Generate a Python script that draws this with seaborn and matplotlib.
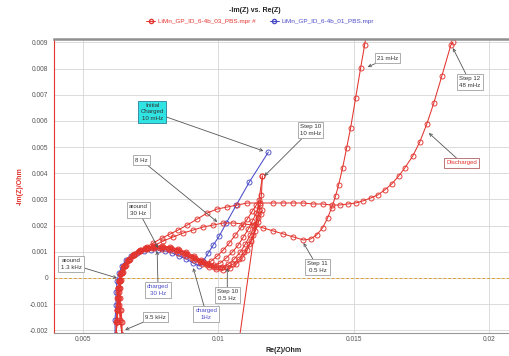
import matplotlib
matplotlib.use("Agg")
import matplotlib.pyplot as plt
from matplotlib.lines import Line2D
from matplotlib.ticker import MultipleLocator, FuncFormatter
import numpy as np
import pandas as pd
import seaborn as sns

# ---------------- data: Nyquist spectra (Re(Z), -Im(Z)) in Ohm ----------------
# series 01 : initial charged state
blue_re = [0.006185, 0.006185, 0.006222, 0.006222, 0.006259, 0.006333, 0.006444, 0.006593,
           0.006778, 0.007000, 0.007259, 0.007519, 0.007778, 0.008037, 0.008296, 0.008556,
           0.008815, 0.009074, 0.009296, 0.009444, 0.009630, 0.009815, 0.010037, 0.010296,
           0.010667, 0.011148, 0.011852]
blue_im = [-0.002177, -0.001604, -0.001031, -0.000535, -0.000115, 0.000191, 0.000458, 0.000688,
           0.000840, 0.000955, 0.001031, 0.001070, 0.001070, 0.001031, 0.000955, 0.000840,
           0.000726, 0.000573, 0.000458, 0.000649, 0.000955, 0.001261, 0.001604, 0.002101,
           0.002788, 0.003667, 0.004813]

# series 03 : successive steps
s1_re = [0.006444, 0.006407, 0.006370, 0.006333, 0.006333, 0.006333, 0.006407, 0.006519,
         0.006667, 0.006852, 0.007074, 0.007333, 0.007593, 0.007889, 0.008185, 0.008481,
         0.008778, 0.009074, 0.009333, 0.009519, 0.009741, 0.009963, 0.010185, 0.010407,
         0.010630, 0.010852, 0.011074, 0.011259, 0.011407, 0.011519]
s1_im = [-0.002177, -0.001680, -0.001222, -0.000764, -0.000382, -0.000115, 0.000191, 0.000458,
         0.000688, 0.000879, 0.001031, 0.001146, 0.001184, 0.001184, 0.001146, 0.001070,
         0.000955, 0.000802, 0.000649, 0.000573, 0.000649, 0.000840, 0.001070, 0.001337,
         0.001642, 0.001948, 0.002254, 0.002559, 0.002788, 0.002979]

s2_re = [0.006222, 0.006259, 0.006296, 0.006296, 0.006296, 0.006370, 0.006444, 0.006556,
         0.006704, 0.006889, 0.007111, 0.007370, 0.007630, 0.007926, 0.008222, 0.008519,
         0.008815, 0.009111, 0.009370, 0.009630, 0.009852, 0.010074, 0.010296, 0.010519,
         0.010741, 0.010926, 0.011111, 0.011259, 0.011407, 0.011556]
s2_im = [-0.002177, -0.001680, -0.001222, -0.000764, -0.000382, -0.000076, 0.000229, 0.000497,
         0.000726, 0.000917, 0.001070, 0.001184, 0.001222, 0.001222, 0.001184, 0.001108,
         0.000993, 0.000840, 0.000688, 0.000535, 0.000497, 0.000573, 0.000764, 0.000993,
         0.001261, 0.001566, 0.001872, 0.002177, 0.002483, 0.002788]

s3_re = [0.006444, 0.006444, 0.006407, 0.006370, 0.006370, 0.006407, 0.006481, 0.006593,
         0.006741, 0.006926, 0.007148, 0.007407, 0.007667, 0.007963, 0.008259, 0.008556,
         0.008852, 0.009148, 0.009444, 0.009704, 0.009926, 0.010148, 0.010370, 0.010593,
         0.010815, 0.011000, 0.011185, 0.011333, 0.011481, 0.011630]
s3_im = [-0.002177, -0.001680, -0.001222, -0.000764, -0.000382, -0.000076, 0.000229, 0.000497,
         0.000726, 0.000917, 0.001070, 0.001146, 0.001184, 0.001184, 0.001146, 0.001070,
         0.000917, 0.000764, 0.000611, 0.000497, 0.000420, 0.000420, 0.000535, 0.000726,
         0.000993, 0.001299, 0.001642, 0.001986, 0.002292, 0.002597]

s4_re = [0.006222, 0.006259, 0.006259, 0.006296, 0.006333, 0.006370, 0.006444, 0.006556,
         0.006704, 0.006889, 0.007111, 0.007370, 0.007630, 0.007926, 0.008222, 0.008519,
         0.008815, 0.009111, 0.009407, 0.009667, 0.009926, 0.010185, 0.010444, 0.010667,
         0.010889, 0.011074, 0.011222, 0.011370, 0.011481, 0.011593]
s4_im = [-0.002177, -0.001680, -0.001222, -0.000764, -0.000382, -0.000115, 0.000191, 0.000458,
         0.000688, 0.000879, 0.001031, 0.001108, 0.001146, 0.001108, 0.001070, 0.000955,
         0.000840, 0.000688, 0.000535, 0.000420, 0.000344, 0.000306, 0.000382, 0.000535,
         0.000764, 0.001070, 0.001413, 0.001795, 0.002139, 0.002445]

step10_re = [0.006222, 0.006222, 0.006259, 0.006259, 0.006296, 0.006333, 0.006370, 0.006481,
             0.006630, 0.006815, 0.007037, 0.007296, 0.007556, 0.007852, 0.008148, 0.008444,
             0.008741, 0.009037, 0.009333, 0.009593, 0.009852, 0.010074, 0.010333, 0.010556,
             0.010778, 0.010963, 0.011148, 0.011296, 0.011407, 0.011519, 0.011593, 0.011630]
step10_im = [-0.002177, -0.001680, -0.001222, -0.000764, -0.000382, -0.000115, 0.000153, 0.000420,
             0.000649, 0.000840, 0.000993, 0.001108, 0.001146, 0.001146, 0.001108, 0.001031,
             0.000917, 0.000764, 0.000611, 0.000497, 0.000420, 0.000382, 0.000420, 0.000535,
             0.000726, 0.000993, 0.001299, 0.001642, 0.002063, 0.002597, 0.003170, 0.003896]

# step 11 is recorded straight after step 10, so its trace starts from the last step-10 point
step11_re = [0.011630, 0.010667, 0.006444, 0.006370, 0.006333, 0.006333, 0.006370, 0.006444,
             0.006556, 0.006704, 0.006889, 0.007111, 0.007333, 0.007593, 0.007963, 0.008333,
             0.008704, 0.009074, 0.009444, 0.009815, 0.010185, 0.010556, 0.010926, 0.011296,
             0.011667, 0.012037, 0.012407, 0.012778, 0.013148, 0.013407, 0.013630, 0.013852,
             0.014037, 0.014185, 0.014333, 0.014444, 0.014593, 0.014741, 0.014889, 0.015074,
             0.015259, 0.015407, 0.015519]
step11_im = [0.003896, -0.003132, -0.002177, -0.001604, -0.001031, -0.000535, -0.000115, 0.000191,
             0.000458, 0.000688, 0.000879, 0.001031, 0.001146, 0.001222, 0.001413, 0.001566,
             0.001719, 0.001833, 0.001948, 0.002024, 0.002101, 0.002101, 0.002063, 0.002024,
             0.001910, 0.001795, 0.001681, 0.001566, 0.001452, 0.001490, 0.001642, 0.001910,
             0.002292, 0.002674, 0.003132, 0.003552, 0.004202, 0.004966, 0.005730, 0.006876,
             0.008021, 0.008900, 0.009664]

step12_re = [0.006222, 0.006259, 0.006296, 0.006296, 0.006333, 0.006407, 0.006519, 0.006667,
             0.006852, 0.007074, 0.007296, 0.007593, 0.007926, 0.008222, 0.008519, 0.008852,
             0.009222, 0.009593, 0.009963, 0.010333, 0.010704, 0.011074, 0.011556, 0.012037,
             0.012407, 0.012778, 0.013148, 0.013481, 0.013852, 0.014185, 0.014481, 0.014778,
             0.015074, 0.015333, 0.015630, 0.015889, 0.016148, 0.016407, 0.016667, 0.016889,
             0.017185, 0.017444, 0.017704, 0.017963, 0.018259, 0.018593, 0.018667]
step12_im = [-0.002177, -0.001604, -0.001031, -0.000535, -0.000115, 0.000191, 0.000458, 0.000688,
             0.000879, 0.001031, 0.001146, 0.001337, 0.001528, 0.001681, 0.001833, 0.002024,
             0.002254, 0.002483, 0.002636, 0.002712, 0.002788, 0.002865, 0.002865, 0.002865,
             0.002865, 0.002865, 0.002865, 0.002827, 0.002827, 0.002788, 0.002788, 0.002827,
             0.002865, 0.002941, 0.003056, 0.003170, 0.003361, 0.003591, 0.003896, 0.004202,
             0.004660, 0.005195, 0.005882, 0.006685, 0.007716, 0.008900, 0.009015]

x_ticks = [0.005, 0.01, 0.015, 0.02]
y_ticks = [-0.002, -0.001, 0, 0.001, 0.002, 0.003, 0.004, 0.005, 0.006, 0.007, 0.008, 0.009]
legend_labels = ["LiMn_GP_ID_6-4b_03_PBS.mpr #", "LiMn_GP_ID_6-4b_01_PBS.mpr"]

RED = "#e3342e"
BLUE = "#4b4bc8"

# ---------------- tables ----------------
red_steps = {1: (s1_re, s1_im), 2: (s2_re, s2_im), 3: (s3_re, s3_im), 4: (s4_re, s4_im),
             10: (step10_re, step10_im), 11: (step11_re, step11_im), 12: (step12_re, step12_im)}
red_df = pd.concat(
    [pd.DataFrame({"re": r, "im": i, "step": k}) for k, (r, i) in red_steps.items()],
    ignore_index=True)
blue_df = pd.DataFrame({"re": blue_re, "im": blue_im, "step": 0})

# ---------------- figure ----------------
sns.set_style("white")
plt.rcParams["font.family"] = ["Liberation Sans", "DejaVu Sans"]

W, H = 509, 356
fig = plt.figure(figsize=(W / 100, H / 100), dpi=100)
ax = fig.add_axes([54 / W, 23 / H, 455 / W, 294 / H])

line_kw = dict(marker="o", markersize=3.6, markerfacecolor="none", markeredgewidth=0.65,
               linewidth=0.75, estimator=None, sort=False, legend=False, ax=ax)
sns.lineplot(data=blue_df, x="re", y="im", units="step", color=BLUE,
             markeredgecolor=BLUE, **line_kw)
sns.lineplot(data=red_df, x="re", y="im", units="step", color=RED,
             markeredgecolor=RED, **line_kw)

ax.set_xlim(0.00393, 0.020741)
ax.set_ylim(-0.002101, 0.009129)
ax.axhline(0, color="#d8a238", lw=0.7, ls=(0, (3, 2)), zorder=1)

ax.set_xticks(x_ticks)
ax.set_yticks(y_ticks)
fmt = FuncFormatter(lambda v, p: f"{round(v, 4):g}")
ax.xaxis.set_major_formatter(fmt)
ax.yaxis.set_major_formatter(fmt)
ax.xaxis.set_minor_locator(MultipleLocator(0.001))
ax.yaxis.set_minor_locator(MultipleLocator(0.0002))
ax.grid(True, which="major", color="#d6d6d6", lw=0.6, zorder=0)
ax.set_axisbelow(True)

ax.tick_params(axis="both", which="major", labelsize=4.8, labelcolor="#555555", pad=2)
ax.tick_params(axis="x", which="both", direction="in", color="#888888", length=2, width=0.5)
ax.tick_params(axis="y", which="both", direction="out", color=RED, length=2, width=0.5)

ax.spines["left"].set_color(RED)
ax.spines["left"].set_linewidth(0.8)
ax.spines["bottom"].set_color("#999999")
ax.spines["bottom"].set_linewidth(0.8)
ax.spines["top"].set_color("#909090")
ax.spines["top"].set_linewidth(1.8)
ax.spines["right"].set_visible(False)

ax.set_xlabel("Re(Z)/Ohm", fontsize=5, fontweight="bold", color="#222222")
ax.xaxis.set_label_coords((284 - 54) / 455, -14 / 294)
ax.set_ylabel("-Im(Z)/Ohm", fontsize=5, fontweight="bold", color=RED)
ax.yaxis.set_label_coords(-30 / 455, 0.5)

# title and legend
fig.text(255 / W, 1 - 10 / H, "-Im(Z) vs. Re(Z)", ha="center", va="center",
         fontsize=5, color="#222222", fontweight="bold")
handles = [Line2D([], [], color=RED, marker="o", mfc="none", mec=RED, ms=3, lw=0.7),
           Line2D([], [], color=BLUE, marker="o", mfc="none", mec=BLUE, ms=3, lw=0.7)]
leg = fig.legend(handles, legend_labels, loc="center", bbox_to_anchor=(260 / W, 1 - 21 / H),
                 ncol=2, frameon=False, fontsize=4.6, handlelength=1.5, handletextpad=0.4,
                 columnspacing=2.2)
for t, c in zip(leg.get_texts(), [RED, BLUE]):
    t.set_color(c)

# annotations
arrow = dict(arrowstyle="->", color="#555555", lw=0.6, shrinkA=0, shrinkB=0, mutation_scale=5)
box = dict(boxstyle="square,pad=0.35", fc="white", ec="#a0a0a0", lw=0.6)


def note(text, xy, xytext, color="#333333", bbox=box):
    ax.annotate(text, xy=xy, xytext=xytext, fontsize=4.4, color=color, ha="center",
                va="center", bbox=bbox, arrowprops=arrow, zorder=6, linespacing=1.3)


note("around\n1.3 kHz", (0.006259, 0.0), (0.004560, 0.000535))
note("9.5 kHz", (0.006556, -0.001986), (0.007667, -0.00149))
note("around\n30 Hz", (0.007778, 0.001146), (0.007037, 0.002597))
note("8 Hz", (0.009963, 0.002139), (0.007148, 0.004507))
note("Initial\nCharged\n10 mHz", (0.011667, 0.004851), (0.007556, 0.006341),
     bbox=dict(boxstyle="square,pad=0.35", fc="#30e4e4", ec="#2a7f9a", lw=0.6))
note("Step 10\n10 mHz", (0.011704, 0.003896), (0.013407, 0.005653))
note("21 mHz", (0.015519, 0.008060), (0.016259, 0.008403))
note("Step 12\n48 mHz", (0.018667, 0.008785), (0.019296, 0.007487))
note("Discharged", (0.017778, 0.005539), (0.019000, 0.004393), color=RED,
     bbox=dict(boxstyle="square,pad=0.35", fc="white", ec="#b06060", lw=0.6))
note("Step 11\n0.5 Hz", (0.013148, 0.001337), (0.013667, 0.000420))
note("Step 10\n0.5 Hz", (0.010333, 0.000382), (0.010333, -0.000649))
note("charged\n30 Hz", (0.007740, 0.001031), (0.007778, -0.000458), color=BLUE)
note("charged\n1Hz", (0.009074, 0.000382), (0.009556, -0.001375), color=BLUE)

fig.savefig("out.png", dpi=100)
